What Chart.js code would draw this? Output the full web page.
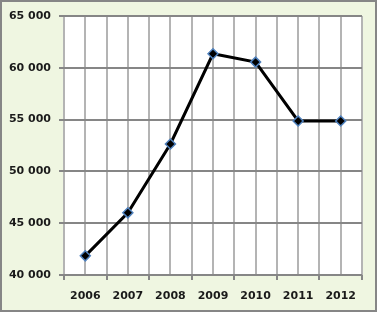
<!DOCTYPE html>
<html>
<head>
<meta charset="utf-8">
<script src="https://cdn.jsdelivr.net/npm/chart.js@4/dist/chart.umd.min.js"></script>
<style>
html,body{margin:0;padding:0;background:#fff;}
#wrap{width:377px;height:312px;position:relative;}
</style>
</head>
<body>
<div id="wrap"><canvas id="c" width="377" height="312"></canvas></div>
<script>
const years = ['2006','2007','2008','2009','2010','2011','2012'];
const values = [41850, 46000, 52650, 61350, 60550, 54870, 54870];
const yMin = 40000, yMax = 65000, yStep = 5000;

const bgPlugin = {
  id: 'bg',
  beforeDraw(chart) {
    const ctx = chart.ctx, a = chart.chartArea;
    ctx.save();
    ctx.fillStyle = '#eff6e1';
    ctx.fillRect(0, 0, chart.width, chart.height);
    ctx.fillStyle = '#ffffff';
    ctx.fillRect(a.left, a.top, a.right - a.left, a.bottom - a.top);
    ctx.strokeStyle = '#868686';
    ctx.lineWidth = 2;
    ctx.strokeRect(1, 1, chart.width - 2, chart.height - 2);
    ctx.restore();
  },
  beforeDatasetsDraw(chart) {
    const ctx = chart.ctx, a = chart.chartArea, xs = chart.scales.x;
    ctx.save();
    ctx.strokeStyle = '#b4b4b4';
    ctx.lineWidth = 2;
    years.forEach((y, i) => {
      const px = Math.round(xs.getPixelForValue(i));
      ctx.beginPath();
      ctx.moveTo(px, a.top);
      ctx.lineTo(px, a.bottom);
      ctx.stroke();
    });
    const ys = chart.scales.y;
    ctx.strokeStyle = '#868686';
    ctx.lineWidth = 2;
    for (let v = yMin; v <= yMax; v += yStep) {
      const py = Math.round(ys.getPixelForValue(v));
      ctx.beginPath();
      ctx.moveTo(a.left - 5, py);
      ctx.lineTo(a.right, py);
      ctx.stroke();
    }
    ctx.restore();
  }
};

new Chart(document.getElementById('c'), {
  type: 'line',
  data: {
    labels: years,
    datasets: [{
      data: values,
      borderColor: '#000000',
      borderWidth: 3,
      tension: 0,
      pointStyle: 'rectRot',
      pointRadius: 5,
      pointHoverRadius: 5,
      pointBackgroundColor: '#000000',
      pointBorderColor: '#4f81bd',
      pointBorderWidth: 1.5,
      fill: false
    }]
  },
  options: {
    responsive: false,
    animation: false,
    events: [],
    layout: { padding: { left: 0, right: 15, top: 16, bottom: 0 } },
    plugins: { legend: { display: false }, tooltip: { enabled: false } },
    scales: {
      x: {
        type: 'category',
        offset: true,
        grid: { offset: true, color: '#b4b4b4', lineWidth: 2, tickLength: 5, tickColor: '#868686' },
        border: { display: false },
        ticks: { color: '#1a1a1a', font: { family: 'DejaVu Sans', size: 11, weight: 'bold' }, padding: 10, maxRotation: 0 },
        afterFit(s) { s.height = 37; }
      },
      y: {
        min: yMin, max: yMax,
        grid: { color: '#868686', lineWidth: 2, tickLength: 5, tickColor: '#868686' },
        border: { display: false },
        ticks: {
          stepSize: yStep,
          color: '#1a1a1a',
          font: { family: 'DejaVu Sans', size: 11, weight: 'bold' },
          padding: 8,
          callback: v => String(v).replace(/\B(?=(\d{3})+(?!\d))/g, ' ')
        },
        afterFit(s) { s.width = 64; }
      }
    }
  },
  plugins: [bgPlugin]
});
</script>
</body>
</html>
